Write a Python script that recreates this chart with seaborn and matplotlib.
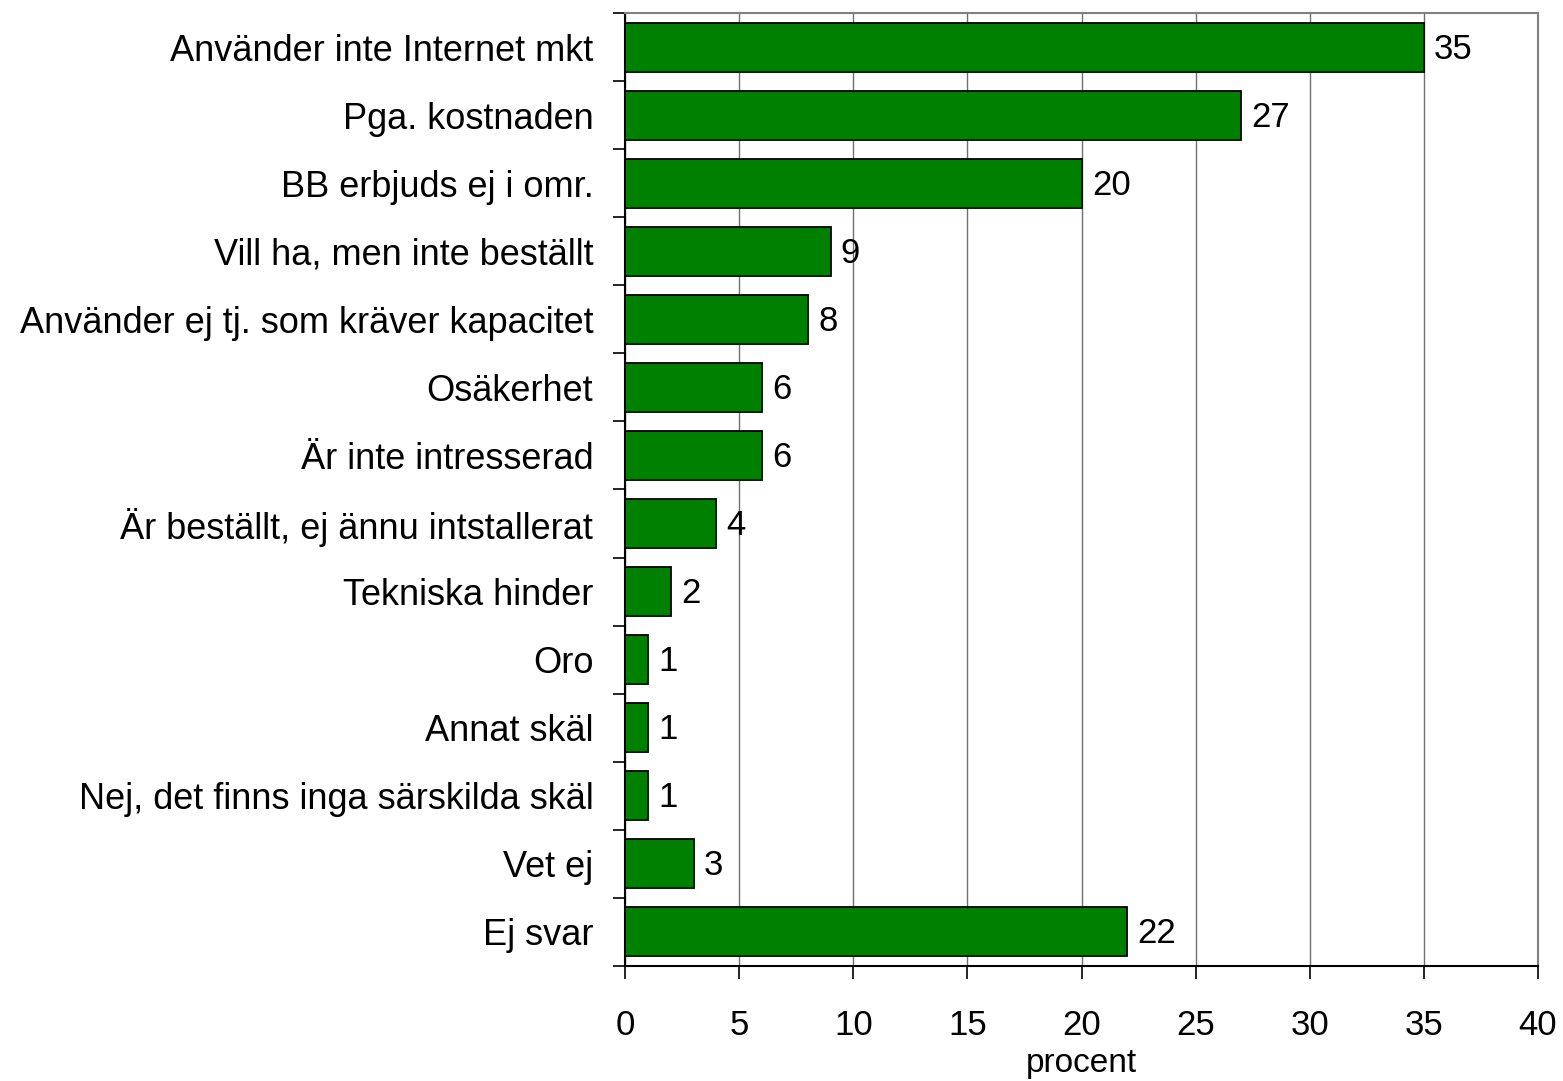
import numpy as np
import pandas as pd
import matplotlib
matplotlib.use("Agg")
import matplotlib.pyplot as plt
import seaborn as sns
from matplotlib.ticker import MultipleLocator, FixedLocator

categories = [
    "Använder inte Internet mkt",
    "Pga. kostnaden",
    "BB erbjuds ej i omr.",
    "Vill ha, men inte beställt",
    "Använder ej tj. som kräver kapacitet",
    "Osäkerhet",
    "Är inte intresserad",
    "Är beställt, ej ännu intstallerat",
    "Tekniska hinder",
    "Oro",
    "Annat skäl",
    "Nej, det finns inga särskilda skäl",
    "Vet ej",
    "Ej svar",
]
values = [35, 27, 20, 9, 8, 6, 6, 4, 2, 1, 1, 1, 3, 22]

df = pd.DataFrame({"category": categories, "value": values})

sns.set_style("white")
plt.rcParams["font.family"] = ["Liberation Sans", "DejaVu Sans"]
plt.rcParams["text.color"] = "black"
plt.rcParams["xtick.color"] = "black"
plt.rcParams["ytick.color"] = "black"

fig = plt.figure(figsize=(15.63, 10.81), dpi=100)
ax = fig.add_axes([0.400, 0.1064, 0.584, 0.8816])

sns.barplot(data=df, x="value", y="category", orient="h", color="#008000",
            saturation=1, edgecolor="black", linewidth=1.3, width=0.72, ax=ax, zorder=3)

ax.set_xlim(0, 40)
ax.set_ylim(len(categories) - 0.5, -0.5)
ax.xaxis.set_major_locator(MultipleLocator(5))
ax.grid(axis="x", color="#707070", linewidth=1.0, zorder=0)
ax.set_axisbelow(True)

for i, v in enumerate(values):
    ax.text(v + 0.45, i + 0.03, str(v), va="center", ha="left", fontsize=25, color="black")

ax.tick_params(axis="y", which="major", left=False, length=0, pad=23, labelsize=26,
               labelcolor="black")
ax.yaxis.set_minor_locator(FixedLocator(np.arange(-0.5, len(categories), 1.0)))
ax.tick_params(axis="y", which="minor", left=True, length=9, width=1.2, color="black",
               direction="out")
ax.tick_params(axis="x", which="major", bottom=True, length=9, width=1.2, color="black",
               direction="out", labelsize=25, pad=22, labelcolor="black")

for side in ["left", "bottom"]:
    ax.spines[side].set_color("black")
    ax.spines[side].set_linewidth(1.5)
for side in ["top", "right"]:
    ax.spines[side].set_color("#808080")
    ax.spines[side].set_linewidth(1.5)

ax.set_ylabel("")
ax.set_xlabel("procent", fontsize=24, labelpad=4, color="black")

fig.savefig("out.png", dpi=100)
